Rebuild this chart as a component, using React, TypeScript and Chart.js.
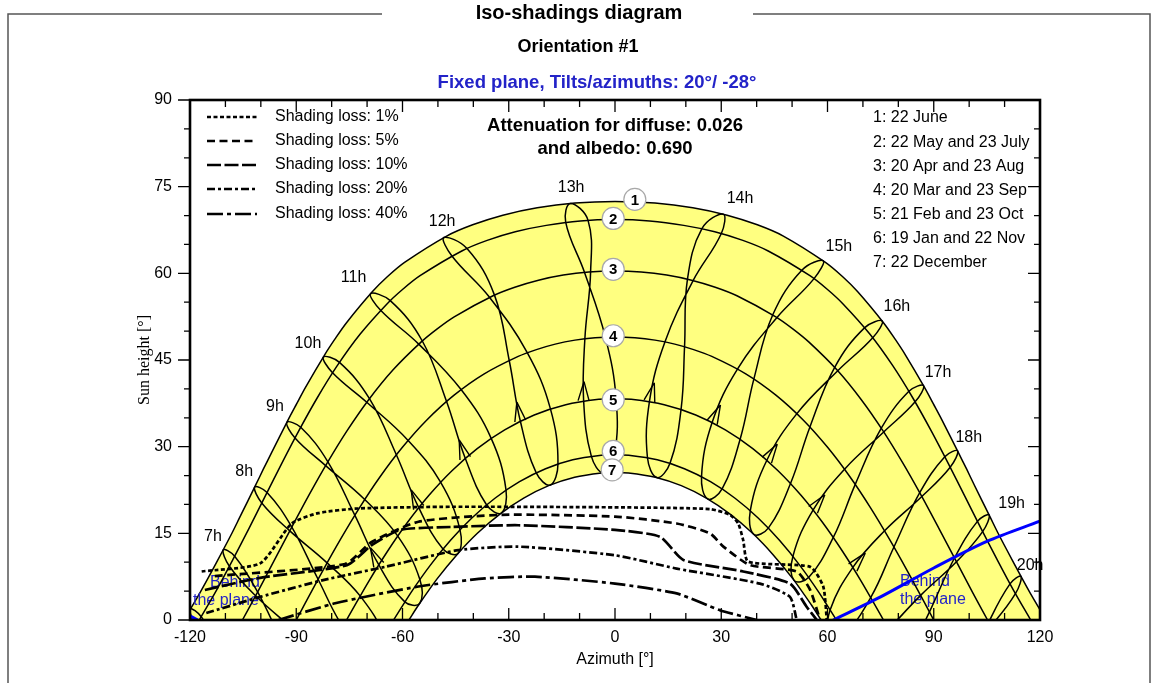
import { useEffect, useRef } from "react";
import { Chart, registerables } from "chart.js";

Chart.register(...registerables);

const SANS = "'Liberation Sans', Arial, Helvetica, sans-serif";
const SERIF = "'Liberation Serif', 'Times New Roman', serif";
const YELLOW = "#ffff80";
const BLUE = "#0000ff";
const TEXT_BLUE = "#2323c8";

// ---------- axes ----------
const AZ_MIN = -120;
const AZ_MAX = 120;
const ALT_MIN = 0;
const ALT_MAX = 90;

// ---------- date curves (azimuth [deg], sun height [deg]) ----------
const dateNames = ["1", "2", "3", "4", "5", "6", "7"];
const dateLegend = [
  "1: 22 June",
  "2: 22 May and 23 July",
  "3: 20 Apr and 23 Aug",
  "4: 20 Mar and 23 Sep",
  "5: 21 Feb and 23 Oct",
  "6: 19 Jan and 22 Nov",
  "7: 22 December",
];
const curve1Az = [-121.8, -119.6, -117.2, -114.9, -110.35, -108.1, -105.9, -101.48, -99.3, -97.0, -92.37, -89.9, -87.43, -82.02, -79.1, -75.86, -68.54, -64.3, -59.42, -47.54, -40.2, -31.66, -21.96, -11.3, 0, 11.3, 21.96, 31.66, 40.2, 47.54, 59.42, 64.3, 68.54, 75.86, 79.1, 82.02, 87.43, 89.9, 92.37, 97.0, 99.3, 101.48, 105.9, 108.1, 110.35, 114.9, 117.2, 119.6, 121.8];
const curve1Alt = [0, 2.2, 4.7, 7.23, 12.46, 15.1, 17.84, 23.33, 26.1, 28.92, 34.55, 37.4, 40.22, 45.85, 48.6, 51.41, 56.8, 59.4, 61.89, 66.45, 68.4, 70.07, 71.35, 72.17, 72.45, 72.17, 71.35, 70.07, 68.4, 66.45, 61.89, 59.4, 56.8, 51.41, 48.6, 45.85, 40.22, 37.4, 34.55, 28.92, 26.1, 23.33, 17.84, 15.1, 12.46, 7.23, 4.7, 2.2, 0];
const curve2Az = [-117.37, -112.54, -107.9, -103.3, -98.76, -94.12, -89.29, -84.14, -78.47, -72.0, -64.39, -60.0, -55.04, -43.26, -36.1, -28.16, -19.4, -9.77, 0, 9.77, 19.4, 28.16, 36.1, 43.26, 55.04, 60.0, 64.39, 72.0, 78.47, 84.14, 89.29, 94.12, 98.76, 103.3, 107.9, 112.54, 117.37];
const curve2Alt = [0, 5.13, 10.45, 15.9, 21.45, 27.07, 32.73, 38.38, 43.97, 49.45, 54.7, 57.2, 59.59, 63.87, 65.7, 67.2, 68.3, 69.06, 69.3, 69.06, 68.3, 67.2, 65.7, 63.87, 59.59, 57.2, 54.7, 49.45, 43.97, 38.38, 32.73, 27.07, 21.45, 15.9, 10.45, 5.13, 0];
const curve3Az = [-105.2, -101.07, -96.25, -91.41, -86.46, -81.25, -75.68, -69.55, -62.65, -54.7, -50.2, -45.4, -34.43, -28.3, -21.6, -14.6, -7.38, 0, 7.38, 14.6, 21.6, 28.3, 34.43, 45.4, 50.2, 54.7, 62.65, 69.55, 75.68, 81.25, 86.46, 91.41, 96.25, 101.07, 105.2];
const curve3Alt = [0, 4.66, 10.26, 15.9, 21.56, 27.19, 32.73, 38.13, 43.31, 48.14, 50.4, 52.48, 56.12, 57.6, 58.81, 59.7, 60.23, 60.4, 60.23, 59.7, 58.81, 57.6, 56.12, 52.48, 50.4, 48.14, 43.31, 38.13, 32.73, 27.19, 21.56, 15.9, 10.26, 4.66, 0];
const curve4Az = [-90, -87.54, -82.57, -77.44, -72.07, -66.33, -60.08, -53.2, -45.52, -36.92, -27.33, -22.2, -16.88, -11.3, -5.62, 0, 5.62, 11.3, 16.88, 22.2, 27.33, 36.92, 45.52, 53.2, 60.08, 66.33, 72.07, 77.44, 82.57, 87.54, 90];
const curve4Alt = [0, 2.83, 8.47, 14.04, 19.5, 24.79, 29.84, 34.57, 38.87, 42.6, 45.62, 46.8, 47.75, 48.44, 48.86, 49.0, 48.86, 48.44, 47.75, 46.8, 45.62, 42.6, 38.87, 34.57, 29.84, 24.79, 19.5, 14.04, 8.47, 2.83, 0];
const curve5Az = [-75.8, -74.58, -69.53, -64.23, -58.62, -52.58, -46.03, -38.91, -31.15, -22.8, -13.9, -4.58, 0, 4.58, 13.9, 22.8, 31.15, 38.91, 46.03, 52.58, 58.62, 64.23, 69.53, 74.58, 75.8];
const curve5Alt = [0, 1.31, 6.7, 11.9, 16.87, 21.54, 25.84, 29.66, 32.91, 35.48, 37.26, 38.19, 38.3, 38.19, 37.26, 35.48, 32.91, 29.66, 25.84, 21.54, 16.87, 11.9, 6.7, 1.31, 0];
const curve6Az = [-62.5, -57.52, -52.18, -46.5, -40.42, -33.9, -26.96, -19.6, -11.93, -3.87, 0, 3.87, 11.93, 19.6, 26.96, 33.9, 40.42, 46.5, 52.18, 57.52, 62.5];
const curve6Alt = [0, 4.83, 9.46, 13.75, 17.65, 21.07, 23.94, 26.18, 27.72, 28.5, 28.6, 28.5, 27.72, 26.18, 23.94, 21.07, 17.65, 13.75, 9.46, 4.83, 0];
const curve7Az = [-58.2, -55.46, -50.24, -44.69, -38.78, -32.49, -25.78, -18.72, -11.39, -3.8, 0, 3.8, 11.39, 18.72, 25.78, 32.49, 38.78, 44.69, 50.24, 55.46, 58.2];
const curve7Alt = [0, 2.59, 7.11, 11.27, 15.05, 18.34, 21.1, 23.25, 24.72, 25.46, 25.55, 25.46, 24.72, 23.25, 21.1, 18.34, 15.05, 11.27, 7.11, 2.59, 0];
const dateAz = [curve1Az, curve2Az, curve3Az, curve4Az, curve5Az, curve6Az, curve7Az];
const dateAlt = [curve1Alt, curve2Alt, curve3Alt, curve4Alt, curve5Alt, curve6Alt, curve7Alt];
// position of the numbered circles
const dateLabelAz = [5.6, -0.5, -0.5, -0.5, -0.5, -0.5, -0.8];
const dateLabelAlt = [72.8, 69.5, 60.7, 49.2, 38.1, 29.2, 26.0];

// ---------- hour lines (legal time) ----------
// closed loops list the points in the order Dec, Jan, Feb, Mar, Apr, May, Jun, Jul, Aug, Sep, Oct, Nov
const loopMonths = ["Dec", "Jan", "Feb", "Mar", "Apr", "May", "Jun", "Jul", "Aug", "Sep", "Oct", "Nov"];
const hourClosed = [false, false, true, true, true, true, true, true, true, true, true, true, true, false, false];
const hourAz: number[][] = [
  [-110.8, -116.83, -119.9, -118.42, -111.4],
  [-93.71, -100.91, -107.39, -110.62, -108.88, -101.48, -91.21],
  [-64.8, -69.1, -76.85, -83.84, -91.25, -98.25, -101.75, -99.74, -91.82, -81.3, -71.98, -65.1],
  [-55.16, -59.35, -66.72, -73.47, -81.07, -88.74, -92.66, -90.35, -81.7, -70.67, -61.38, -55.12],
  [-44.35, -48.57, -55.45, -61.74, -69.33, -77.8, -82.36, -79.75, -70.09, -58.42, -49.29, -43.78],
  [-32.1, -36.28, -42.31, -47.58, -54.41, -63.46, -69.03, -66.18, -55.42, -43.46, -35.02, -30.78],
  [-18.29, -22.27, -26.75, -29.88, -34.03, -41.79, -48.36, -46.1, -35.43, -24.78, -18.27, -16.1],
  [-3.34, -6.69, -8.86, -8.5, -6.89, -7.61, -12.63, -13.93, -8.62, -2.74, 0.32, -0.16],
  [11.84, 9.16, 9.74, 14.12, 22.05, 30.02, 30.57, 24.58, 20.46, 19.64, 18.67, 15.56],
  [26.19, 24.43, 27.47, 34.62, 45.74, 56.2, 58.8, 52.81, 44.55, 39.22, 35.37, 30.28],
  [39.15, 38.2, 42.91, 51.36, 62.9, 72.77, 75.46, 70.51, 62.03, 55.04, 49.61, 43.34],
  [50.56, 50.24, 55.96, 64.82, 75.87, 84.74, 87.12, 82.99, 75.19, 67.84, 61.67, 54.73],
  [60.7, 60.76, 67.17, 76.12, 86.63, 94.64, 96.73, 93.12, 86.04, 78.76, 72.23, 64.78],
  [77.23, 86.29, 96.41, 103.8, 105.63, 102.33, 95.85, 88.79, 81.99],
  [96.1, 106.11, 113.06, 114.62, 111.53, 105.53, 98.7],
];
const hourAlt: number[][] = [
  [-6.0, 0.56, 1.9, -1.07, -6.7],
  [-4.26, 4.85, 11.05, 12.14, 9.3, 4.19, -1.4],
  [-7.0, -7.0, -1.19, 7.05, 16.09, 22.07, 23.0, 20.26, 15.42, 9.89, 4.17, -2.9],
  [2.87, 3.14, 9.57, 18.14, 27.38, 33.36, 34.21, 31.52, 26.72, 20.86, 14.57, 7.05],
  [11.51, 12.3, 19.49, 28.6, 38.31, 44.58, 45.51, 42.79, 37.68, 31.08, 23.89, 15.65],
  [18.52, 19.95, 28.03, 37.85, 48.29, 55.27, 56.48, 53.61, 47.75, 39.89, 31.52, 22.54],
  [23.36, 25.51, 34.48, 44.96, 56.23, 64.3, 66.2, 63.04, 55.85, 46.28, 36.63, 27.06],
  [25.48, 28.36, 37.98, 48.72, 60.25, 69.17, 72.1, 68.86, 60.17, 49.0, 38.3, 28.6],
  [24.65, 28.13, 37.88, 48.17, 58.74, 66.9, 70.25, 67.77, 58.99, 47.33, 36.55, 27.18],
  [20.95, 24.85, 34.25, 43.46, 52.35, 59.08, 62.18, 60.58, 52.82, 41.74, 31.38, 22.75],
  [14.84, 18.95, 27.7, 35.72, 43.14, 48.85, 51.74, 50.6, 43.73, 33.42, 23.71, 15.95],
  [6.85, 11.04, 19.08, 26.1, 32.55, 37.76, 40.56, 39.58, 33.19, 23.48, 14.34, 7.39],
  [-2.3, 1.77, 9.12, 15.44, 21.37, 26.44, 29.26, 28.27, 22.03, 12.64, 3.92, -2.33],
  [-1.65, 4.26, 10.07, 15.29, 18.17, 17.07, 10.73, 1.4, -7.12],
  [-7.0, -1.02, 4.55, 7.54, 6.25, -0.38, -9.9],
];
const hourLabelText = ["7h", "8h", "9h", "10h", "11h", "12h", "13h", "14h", "15h", "16h", "17h", "18h", "19h", "20h"];
const hourLabelAz = [-113.5, -104.7, -96.0, -86.7, -73.8, -48.8, -12.4, 35.3, 63.2, 79.6, 91.2, 99.9, 112.0, 117.2];
const hourLabelAlt = [14.5, 25.6, 36.9, 47.9, 59.3, 69.0, 74.9, 73.0, 64.7, 54.2, 42.9, 31.5, 20.2, 9.5];

// ---------- iso-shading lines ----------
const lossNames = ["Shading loss: 1%", "Shading loss: 5%", "Shading loss: 10%", "Shading loss: 20%", "Shading loss: 40%"];
const lossDash = [[4, 2.5], [8, 4.5], [14, 3.5], [8, 3, 3, 3], [16, 4, 4, 4]];
const lossAz: number[][] = [
  [-116.7, -100.2, -91.3, -83.8, -72.5, -46.1, 0, 26.8, 32.5, 34.8, 36.2, 37.6, 55.1, 58.8, 59.8],
  [-113, -76.2, -68.7, -55.5, -32.0, 0, 17.4, 26.8, 30.6, 38.1, 51.3, 55.1, 57.9],
  [-115.8, -100.2, -75.7, -68.6, -60.7, -46.1, -27.3, 0, 12.7, 19.3, 36.2, 49.4, 54.1, 57],
  [-115.4, -100.2, -82.4, -64.9, -44.2, -27.3, 0, 17.4, 40.9, 49.4, 51.3],
  [-95, -79, -55.5, -36.7, -22.6, 0, 17.4, 29.6, 40],
];
const lossAlt: number[][] = [
  [8.4, 9.8, 16.7, 18.5, 19.3, 19.6, 19.5, 19.2, 18.2, 16.7, 13.8, 10.1, 9.2, 5.8, 0],
  [7.6, 9.7, 13.5, 17.0, 18.2, 17.9, 16.7, 15.0, 12.7, 9.5, 8.4, 5.2, 0],
  [5.2, 7.3, 9.5, 13.0, 15.6, 16.1, 16.4, 15.6, 14.4, 10.4, 8.4, 6.3, 2.3, 0],
  [1.2, 4.0, 6.9, 9.2, 12.1, 12.7, 11.2, 8.9, 6.3, 4.0, 0],
  [0, 2.9, 5.8, 7.2, 7.5, 6.3, 4.6, 1.7, 0],
];

// ---------- "behind the plane" limit ----------
const behindLeftAz = [-120, -117.8];
const behindLeftAlt = [0.7, 0];
const behindRightAz = [61.6, 75, 90, 105, 120];
const behindRightAlt = [0, 4.0, 9.0, 13.6, 17.1];

const pts = (az: number[], alt: number[]) => az.map((a, i) => ({ x: a, y: alt[i] }));

const WHITE_FILL_INDEX = 6;

const decorPlugin = {
  id: "decor",
  afterDatasetDraw(chart: any, args: any) {
    if (args.index !== WHITE_FILL_INDEX) return;
    // "behind the plane" captions sit under the hour lines
    const { ctx } = chart;
    ctx.save();
    ctx.textBaseline = "middle";
    ctx.fillStyle = TEXT_BLUE;
    ctx.font = `16px ${SANS}`;
    ctx.textAlign = "left";
    ctx.fillText("Behind", 210, 583);
    ctx.fillText("the plane", 193, 601);
    ctx.fillText("Behind", 900, 582);
    ctx.fillText("the plane", 900, 600);
    ctx.restore();
  },
  afterDatasetsDraw(chart: any) {
    const { ctx, chartArea: ca } = chart;
    const sx = chart.scales.x;
    const sy = chart.scales.y;
    const X = (v: number) => sx.getPixelForValue(v);
    const Y = (v: number) => sy.getPixelForValue(v);
    const feb = loopMonths.indexOf("Feb");
    const mar = loopMonths.indexOf("Mar");

    // direction arrows on the hour lines
    ctx.save();
    ctx.beginPath();
    ctx.rect(ca.left, ca.top, ca.width, ca.height);
    ctx.clip();
    ctx.strokeStyle = "#000";
    ctx.lineWidth = 1.4;
    hourAz.forEach((az, i) => {
      if (!hourClosed[i]) return;
      const alt = hourAlt[i];
      if (alt[feb] <= 0) return;
      const fx = X(az[feb]);
      const fy = Y(alt[feb]);
      const ang = Math.atan2(Y(alt[mar]) - fy, X(az[mar]) - fx);
      const tx = fx + Math.cos(ang) * 19;
      const ty = fy + Math.sin(ang) * 19;
      ctx.beginPath();
      for (const s of [-1, 1]) {
        const a2 = ang + Math.PI + s * 0.28;
        ctx.moveTo(tx, ty);
        ctx.lineTo(tx + Math.cos(a2) * 20, ty + Math.sin(a2) * 20);
      }
      ctx.stroke();
    });
    ctx.restore();

    ctx.save();
    ctx.textBaseline = "middle";
    // numbered date circles
    dateNames.forEach((n, i) => {
      const cx = X(dateLabelAz[i]);
      const cy = Y(dateLabelAlt[i]);
      ctx.beginPath();
      ctx.arc(cx, cy, 11, 0, Math.PI * 2);
      ctx.fillStyle = "#fff";
      ctx.fill();
      ctx.strokeStyle = "#a8a8a8";
      ctx.lineWidth = 1.2;
      ctx.stroke();
      ctx.fillStyle = "#000";
      ctx.font = `bold 15px ${SANS}`;
      ctx.textAlign = "center";
      ctx.fillText(n, cx, cy + 1);
    });

    // hour labels
    ctx.font = `16px ${SANS}`;
    ctx.fillStyle = "#000";
    ctx.textAlign = "center";
    hourLabelText.forEach((t, i) => ctx.fillText(t, X(hourLabelAz[i]), Y(hourLabelAlt[i])));

    // attenuation text
    ctx.fillStyle = "#000";
    ctx.font = `bold 18.5px ${SANS}`;
    ctx.textAlign = "center";
    ctx.fillText("Attenuation for diffuse: 0.026", 615, 126);
    ctx.fillText("and albedo: 0.690", 615, 149);

    // shading-loss legend
    const legY = [117, 141, 165, 189, 214];
    ctx.font = `16px ${SANS}`;
    ctx.textAlign = "left";
    lossNames.forEach((name, i) => {
      ctx.strokeStyle = "#000";
      ctx.lineWidth = 2.6;
      ctx.setLineDash(lossDash[i]);
      ctx.beginPath();
      ctx.moveTo(207, legY[i]);
      ctx.lineTo(257, legY[i]);
      ctx.stroke();
      ctx.setLineDash([]);
      ctx.fillStyle = "#000";
      ctx.fillText(name, 275, legY[i]);
    });

    // date legend
    const dY = [118, 143, 167, 191, 215, 239, 263];
    dateLegend.forEach((t, i) => ctx.fillText(t, 873, dY[i]));
    ctx.restore();
  },
  afterDraw(chart: any) {
    const { ctx, chartArea: ca } = chart;
    const sx = chart.scales.x;
    const sy = chart.scales.y;
    ctx.save();
    // frame
    ctx.strokeStyle = "#000";
    ctx.lineWidth = 2.6;
    ctx.strokeRect(ca.left, ca.top, ca.right - ca.left, ca.bottom - ca.top);
    // ticks
    ctx.lineWidth = 1.3;
    ctx.beginPath();
    for (let a = AZ_MIN; a <= AZ_MAX; a += 10) {
      const px = sx.getPixelForValue(a);
      const L = a % 30 === 0 ? 12 : 7;
      ctx.moveTo(px, ca.bottom);
      ctx.lineTo(px, ca.bottom - L);
      ctx.moveTo(px, ca.top);
      ctx.lineTo(px, ca.top + L);
    }
    for (let h = ALT_MIN; h <= ALT_MAX; h += 5) {
      const py = sy.getPixelForValue(h);
      const L = h % 15 === 0 ? 12 : 6;
      ctx.moveTo(ca.left - L, py);
      ctx.lineTo(ca.left, py);
      ctx.moveTo(ca.right, py);
      ctx.lineTo(ca.right - L, py);
    }
    ctx.stroke();

    // axis titles
    ctx.fillStyle = "#000";
    ctx.textBaseline = "middle";
    ctx.textAlign = "center";
    ctx.font = `16px ${SANS}`;
    ctx.fillText("Azimuth [°]", (ca.left + ca.right) / 2, 660);
    ctx.save();
    ctx.translate(145, (ca.top + ca.bottom) / 2);
    ctx.rotate(-Math.PI / 2);
    ctx.font = `16px ${SERIF}`;
    ctx.fillText("Sun height [°]", 0, 0);
    ctx.restore();

    // page titles and frame
    ctx.font = `bold 20px ${SANS}`;
    ctx.fillText("Iso-shadings diagram", 579, 13);
    ctx.font = `bold 18px ${SANS}`;
    ctx.fillText("Orientation #1", 578, 47);
    ctx.fillStyle = TEXT_BLUE;
    ctx.font = `bold 18.5px ${SANS}`;
    ctx.fillText("Fixed plane, Tilts/azimuths: 20°/ -28°", 597, 83);

    ctx.strokeStyle = "#555";
    ctx.lineWidth = 1.5;
    ctx.beginPath();
    ctx.moveTo(8, 690);
    ctx.lineTo(8, 14);
    ctx.lineTo(382, 14);
    ctx.moveTo(753, 14);
    ctx.lineTo(1150, 14);
    ctx.lineTo(1150, 690);
    ctx.stroke();
    ctx.restore();
  },
};

export default function App() {
  const ref = useRef<HTMLCanvasElement>(null);
  useEffect(() => {
    if (!ref.current) return;
    const datasets: any[] = [];
    dateAz.forEach((az, i) => {
      datasets.push({
        data: pts(az, dateAlt[i]),
        borderColor: "#000",
        borderWidth: 1.5,
        tension: 0.3,
        pointRadius: 0,
        fill: i === 0 || i === WHITE_FILL_INDEX ? "origin" : false,
        backgroundColor: i === 0 ? YELLOW : "#ffffff",
        order: i === 0 ? 3 : i === WHITE_FILL_INDEX ? 2 : 1,
      });
    });
    hourAz.forEach((az, i) => {
      const alt = hourAlt[i];
      let idx = az.map((_, k) => k);
      if (hourClosed[i]) idx = [az.length - 1, ...idx, 0, 1];
      const data = idx.map((k) => ({ x: az[k], y: alt[k] }));
      const last = data.length - 2;
      const ds: any = {
        data,
        borderColor: "#000",
        borderWidth: 1.5,
        tension: 0.4,
        pointRadius: 0,
        fill: false,
        order: 1,
      };
      if (hourClosed[i]) {
        ds.segment = {
          borderColor: (c: any) => (c.p0DataIndex === 0 || c.p0DataIndex === last ? "rgba(0,0,0,0)" : undefined),
        };
      }
      datasets.push(ds);
    });
    lossAz.forEach((az, i) => {
      datasets.push({
        data: pts(az, lossAlt[i]),
        borderColor: "#000",
        borderWidth: 2.7,
        borderDash: lossDash[i],
        tension: 0.2,
        pointRadius: 0,
        fill: false,
        order: 0,
      });
    });
    datasets.push({ data: pts(behindLeftAz, behindLeftAlt), borderColor: BLUE, borderWidth: 3, pointRadius: 0, fill: false, order: -1 });
    datasets.push({ data: pts(behindRightAz, behindRightAlt), borderColor: BLUE, borderWidth: 3, tension: 0.3, pointRadius: 0, fill: false, order: -1 });

    const chart = new Chart(ref.current, {
      type: "line",
      data: { datasets },
      options: {
        animation: false,
        responsive: false,
        events: [],
        layout: { padding: { left: 0, right: 117, top: 100, bottom: 0 } },
        elements: { line: { capBezierPoints: false, borderJoinStyle: "round" }, point: { radius: 0 } },
        plugins: { legend: { display: false }, tooltip: { enabled: false }, filler: { propagate: false } },
        scales: {
          x: {
            type: "linear",
            min: AZ_MIN,
            max: AZ_MAX,
            afterFit: (s: any) => { s.height = 63; },
            grid: { display: false, drawTicks: false },
            border: { display: false },
            ticks: { stepSize: 30, color: "#000", padding: 8, maxRotation: 0, autoSkip: false, font: { family: SANS, size: 16 } },
          },
          y: {
            type: "linear",
            min: ALT_MIN,
            max: ALT_MAX,
            afterFit: (s: any) => { s.width = 190; },
            grid: { display: false, drawTicks: false },
            border: { display: false },
            ticks: { stepSize: 15, color: "#000", padding: 18, font: { family: SANS, size: 16 } },
          },
        },
      } as any,
      plugins: [decorPlugin],
    });
    return () => chart.destroy();
  }, []);
  return (
    <div style={{ position: "absolute", left: 0, top: 0, width: 1157, height: 683, background: "#fff" }}>
      <canvas ref={ref} width={1157} height={683} />
    </div>
  );
}
